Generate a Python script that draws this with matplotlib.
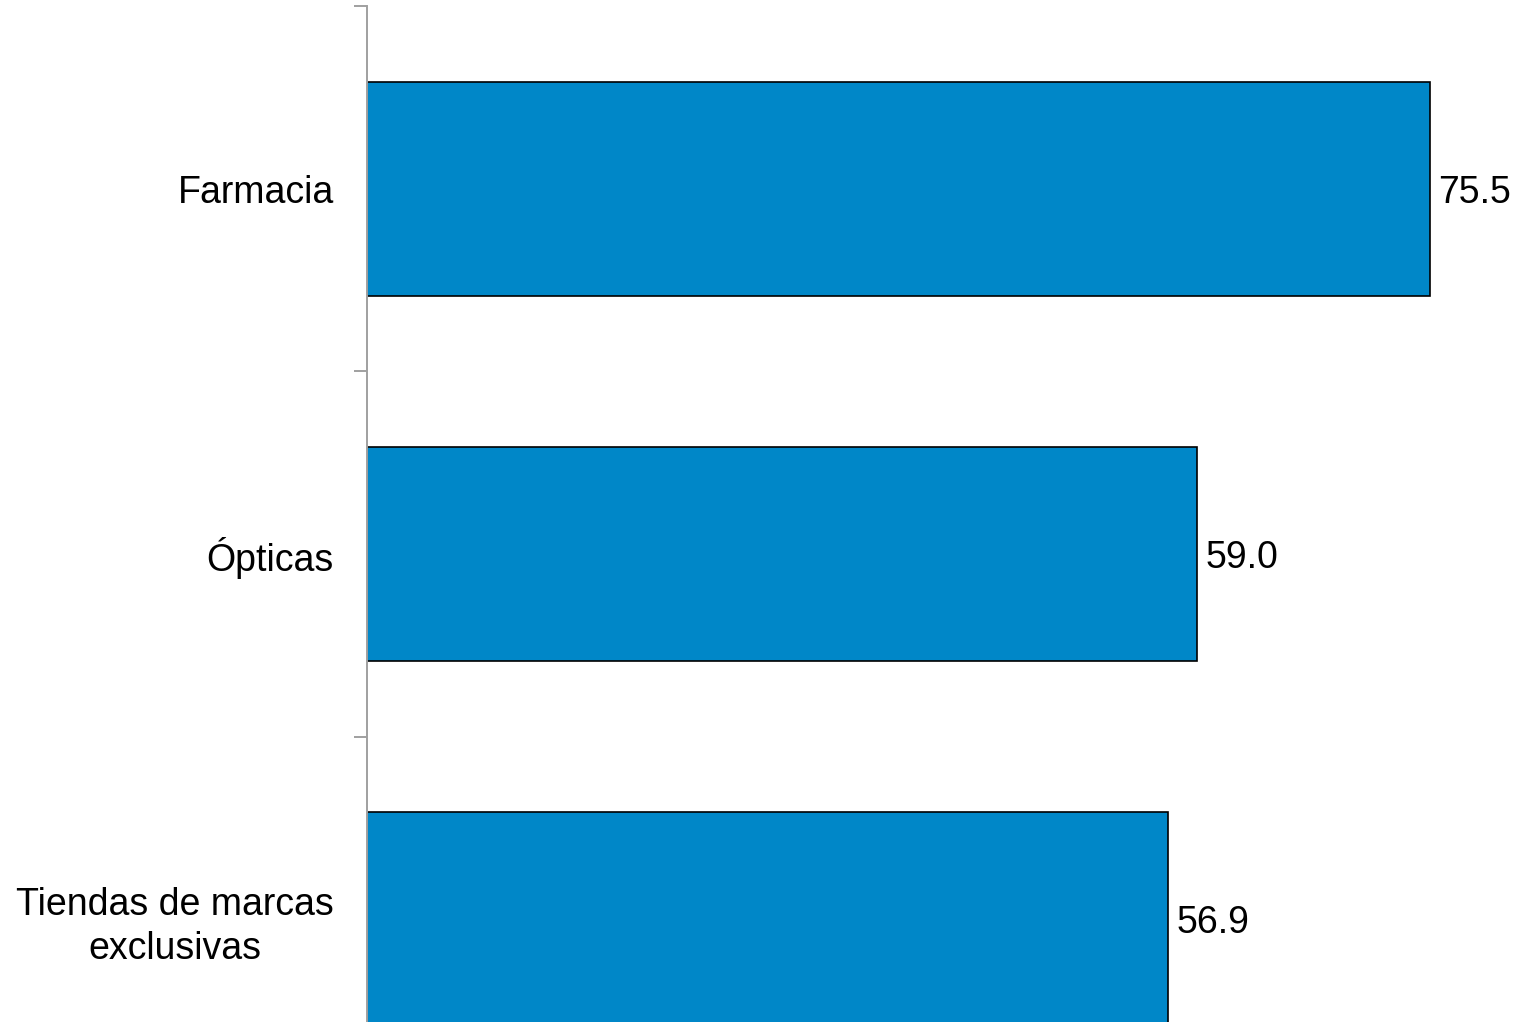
import numpy as np
import matplotlib.pyplot as plt
from matplotlib.ticker import FixedLocator, NullLocator

categories = ['Farmacia', 'Ópticas', 'Tiendas de marcas\nexclusivas']
values = [75.5, 59.0, 56.9]

plt.rcParams['font.family'] = ['Liberation Sans', 'DejaVu Sans']

fig = plt.figure(figsize=(15.17, 10.22), dpi=100)
# axes runs off the bottom of the figure, as in the cropped original
ax = fig.add_axes([367 / 1517, 1 - 1101.5 / 1022, 1 - 367 / 1517, (1101.5 - 6.5) / 1022])

y = np.arange(len(categories))
ax.barh(y, values, height=0.586, color='#0087C8', edgecolor='black', linewidth=1.2)

for yi, v in zip(y, values):
    ax.text(v + 0.6, yi + 0.01, f'{v:.1f}', va='center', ha='left', fontsize=27)

ax.set_xlim(0, 81.7)
ax.set_ylim(2.5, -0.5)

ax.yaxis.set_major_locator(FixedLocator(y))
ax.set_yticklabels(categories, fontsize=27, ha='right', multialignment='center',
                   linespacing=1.3)
ax.tick_params(axis='y', which='major', length=0, pad=24)
ax.yaxis.set_minor_locator(FixedLocator([-0.5, 0.5, 1.5, 2.5]))
ax.tick_params(axis='y', which='minor', length=9.5, width=1.4, color='#a0a0a0', direction='out')
ax.xaxis.set_major_locator(NullLocator())

for s in ['top', 'right', 'bottom']:
    ax.spines[s].set_visible(False)
ax.spines['left'].set_color('#a0a0a0')
ax.spines['left'].set_linewidth(1.4)

fig.savefig('out.png', dpi=100)
